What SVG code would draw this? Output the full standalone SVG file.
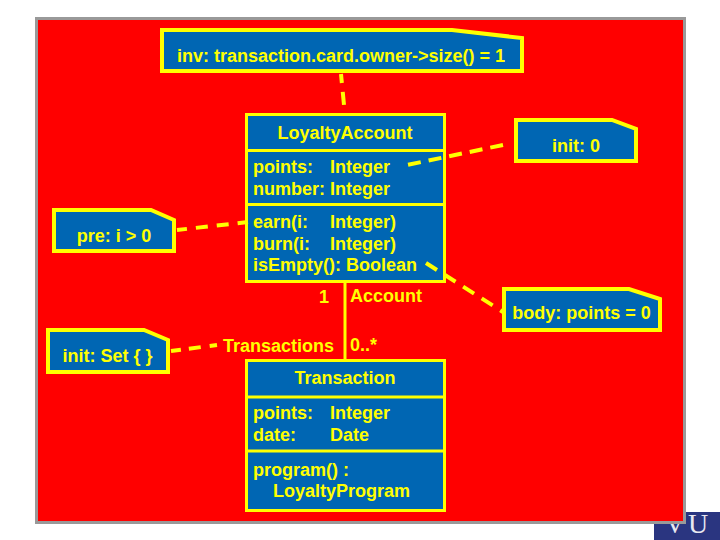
<svg xmlns="http://www.w3.org/2000/svg" width="720" height="540" viewBox="0 0 720 540">
<style>
text{font-family:"Liberation Sans",Arial,sans-serif;font-size:18px;font-weight:bold;fill:#ffff00}
.m{text-anchor:middle}
.box{fill:#0066b3;stroke:#ffff00;stroke-width:4}
.cls{fill:#0066b3;stroke:#ffff00;stroke-width:3}
.div{fill:none;stroke:#ffff00;stroke-width:3}
.dash{fill:none;stroke:#ffff00;stroke-width:4}
</style>
<rect width="720" height="540" fill="#ffffff"/>
<g id="logo"><rect x="654" y="512" width="66" height="28" fill="#2a3580"/><text x="688" y="533" text-anchor="middle" letter-spacing="3" style="font-family:'Liberation Serif',serif;font-size:28px;font-weight:normal;fill:#e8e8f0">VU</text></g>
<rect x="36.500" y="18.500" width="648" height="504" fill="#ff0000" stroke="#999999" stroke-width="3"/>
<g id="note-inv"><path class="box" d="M162 30H452L522 38V71H162Z"/><text class="m" x="341" y="62">inv: transaction.card.owner-&gt;size() = 1</text></g>
<g id="note-init0"><path class="box" d="M516 120H612L636 129V161H516Z"/><text class="m" x="576" y="152">init: 0</text></g>
<g id="note-pre"><path class="box" d="M54 210H151L174 220V251H54Z"/><text class="m" x="114" y="242">pre: i &gt; 0</text></g>
<g id="note-initset"><path class="box" d="M48 330H144L168 340V372H48Z"/><text class="m" x="107.500" y="362">init: Set { }</text></g>
<g id="note-body"><path class="box" d="M504 289H629L660 299V330H504Z"/><text class="m" x="581.500" y="319">body: points = 0</text></g>
<g id="class-loyalty">
<rect class="cls" x="246.500" y="114.500" width="198" height="167"/>
<path class="div" d="M246 150.500H445M246 204.500H445"/>
<text class="m" x="345" y="139">LoyaltyAccount</text>
<text x="253" y="173">points:</text><text x="330" y="173">Integer</text>
<text x="253" y="195">number:</text><text x="330" y="195">Integer</text>
<text x="253" y="228">earn(i:</text><text x="330" y="228">Integer)</text>
<text x="253" y="250">burn(i:</text><text x="330" y="250">Integer)</text>
<text x="253" y="271">isEmpty(): Boolean</text>
</g>
<g id="class-transaction">
<rect class="cls" x="246.500" y="360.500" width="198" height="150"/>
<path class="div" d="M246 397H445M246 451H445"/>
<text class="m" x="345" y="384">Transaction</text>
<text x="253" y="419">points:</text><text x="330" y="419">Integer</text>
<text x="253" y="441">date:</text><text x="330" y="441">Date</text>
<text x="253" y="476">program() :</text>
<text x="273" y="497">LoyaltyProgram</text>
</g>
<g id="assoc-labels">
<text x="319" y="303">1</text>
<text x="350" y="302">Account</text>
<text x="223" y="352">Transactions</text>
<text x="350" y="351">0..*</text>
</g>
<g id="connectors">
<path class="dash" d="M341 74L344 105" stroke-dasharray="9 9 13 20"/>
<path class="dash" d="M503 145L407 165" stroke-dasharray="13 8"/>
<path class="dash" d="M177 230L248 222" stroke-dasharray="10 9 12 9 12 9 12"/>
<path class="dash" d="M171 351L217 345" stroke-dasharray="10 8 12 9 8 20"/>
<path class="dash" d="M426 263L503 312" stroke-dasharray="13 9"/>
<path class="div" d="M345 283V359"/>
</g>
</svg>
